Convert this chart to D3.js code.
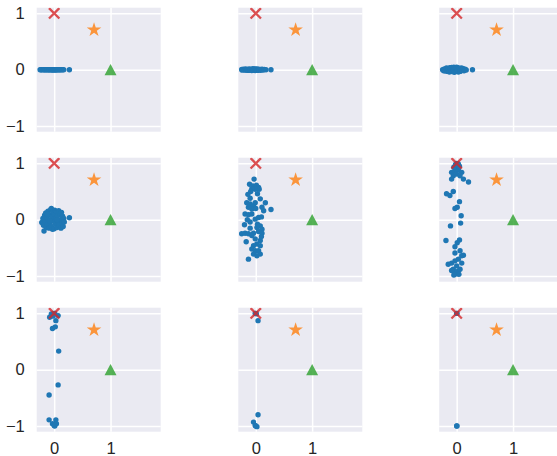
<!DOCTYPE html>
<html>
<head>
<meta charset="utf-8">
<script src="https://cdn.jsdelivr.net/npm/d3@7"></script>
<style>
  html, body { margin: 0; padding: 0; background: #ffffff; }
  svg { display: block; }
  .tick text { font-family: "Liberation Sans", Arial, sans-serif; font-size: 16.5px; fill: #262626; }
</style>
</head>
<body>
<svg id="chart" width="557" height="456"></svg>
<script>
// Reference states shown in every panel
const refUp = [0, 1];            // |1> direction, red cross
const refDiag = [0.7071, 0.7071]; // 45 degree state, orange star
const refRight = [1, 0];          // |0> direction, green triangle

const xTicks = [0, 1];
const yTicks = [-1, 0, 1];

// Sampled states at each stage, [x, y]
const stage1 = [[-0.25,0],[-0.23,0],[-0.22,0],[-0.19,0],[-0.18,0],[-0.16,0],[-0.15,0],[-0.13,0],[-0.12,0],[-0.1,0],[-0.09,0],[-0.08,0],[-0.06,0],[-0.05,0],[-0.04,0],[-0.03,0],[-0.02,0],[-0.01,0],[0,0],[0.01,0],[0.02,0],[0.03,0],[0.04,0],[0.05,0],[0.07,0],[0.08,0],[0.1,0],[0.11,0],[0.13,0],[0.15,0],[0.17,0],[0.27,0]];

const stage2 = [[-0.25,0.005],[-0.24,-0.008],[-0.22,0.01],[-0.2,-0.004],[-0.18,0.012],[-0.17,-0.01],[-0.15,0.006],[-0.13,-0.012],[-0.12,0.014],[-0.1,-0.006],[-0.09,0.01],[-0.07,-0.014],[-0.06,0.004],[-0.05,0.016],[-0.04,-0.01],[-0.02,0.012],[-0.01,-0.016],[0,0.008],[0.01,-0.004],[0.02,0.014],[0.03,-0.012],[0.05,0.01],[0.06,-0.008],[0.08,0.006],[0.09,-0.01],[0.11,0.008],[0.13,-0.004],[0.15,0.004],[0.18,0],[0.27,0]];

const stage3 = [[-0.25,0],[-0.23,-0.02],[-0.22,0.015],[-0.2,-0.025],[-0.18,0.03],[-0.16,-0.03],[-0.15,0.02],[-0.13,-0.04],[-0.12,0.035],[-0.1,-0.02],[-0.09,0.04],[-0.07,-0.035],[-0.06,0.01],[-0.05,0.045],[-0.04,-0.045],[-0.02,0.03],[-0.01,-0.03],[0,0.045],[0.01,-0.02],[0.02,0.035],[0.03,-0.04],[0.05,0.02],[0.06,-0.03],[0.08,0.03],[0.09,-0.015],[0.11,0.02],[0.13,-0.02],[0.15,0.01],[0.17,-0.005],[0.28,0]];

const stage4 = [[-0.22,-0.05],[-0.2,0.02],[-0.19,-0.1],[-0.17,0.08],[-0.16,-0.03],[-0.15,0.12],[-0.14,-0.14],[-0.13,0.04],[-0.12,-0.08],[-0.11,0.15],[-0.1,0],[-0.09,-0.15],[-0.08,0.09],[-0.07,-0.05],[-0.06,0.18],[-0.05,0.2],[-0.05,-0.12],[-0.04,0.05],[-0.03,-0.17],[-0.02,0.13],[-0.01,-0.02],[0,0.1],[0,-0.16],[0.01,0.17],[0.02,-0.07],[0.03,0.03],[0.04,0.14],[0.05,-0.14],[0.06,0.07],[0.07,-0.03],[0.08,0.16],[0.09,-0.1],[0.1,0.1],[0.11,0],[0.12,-0.15],[0.13,0.13],[0.14,-0.06],[0.15,0.06],[0.16,-0.12],[0.17,0.02],[0.18,-0.04],[0.27,0.035],[-0.18,-0.2],[-0.12,0.1],[0.05,0],[-0.08,-0.02]];

const stage5 = [[-0.03,0.72],[-0.11,0.63],[-0.05,0.6],[0.01,0.61],[0.05,0.57],[0.06,0.54],[-0.01,0.54],[-0.07,0.55],[0.03,0.46],[-0.1,0.38],[0.08,0.37],[-0.16,0.3],[-0.1,0.28],[-0.04,0.25],[-0.13,0.22],[-0.07,0.19],[-0.01,0.3],[0.17,0.3],[0.11,0.22],[0.27,0.18],[0.14,0.16],[-0.19,0.1],[-0.13,0.09],[-0.07,0.1],[0.05,0.04],[-0.01,0.01],[-0.2,-0.09],[-0.1,-0.04],[0.08,-0.11],[0.02,-0.14],[0.11,-0.17],[0.05,-0.21],[-0.04,-0.24],[0.11,-0.24],[-0.25,-0.25],[-0.19,-0.24],[-0.13,-0.25],[-0.07,-0.28],[-0.01,-0.34],[0.08,-0.37],[-0.17,-0.39],[0.02,-0.43],[0.08,-0.46],[-0.04,-0.46],[-0.07,-0.52],[-0.01,-0.55],[0.05,-0.55],[-0.04,-0.61],[0.08,-0.61],[0.02,-0.64],[-0.13,-0.7],[-0.14,0.45],[-0.09,0.5],[0,0.2],[-0.15,0],[0.1,-0.3],[-0.1,-0.15],[0.03,-0.08],[0.1,0.05]];

const stage6 = [[-0.09,0.84],[-0.03,0.87],[0.03,0.89],[0.09,0.84],[-0.06,0.78],[0,0.81],[0.06,0.78],[-0.09,0.72],[0.12,0.72],[0.21,0.67],[0,0.96],[-0.05,0.93],[0.05,0.95],[0,1],[-0.02,0.98],[0.03,0.99],[-0.18,0.46],[-0.12,0.43],[-0.06,0.5],[0.05,0.32],[0.01,0.22],[-0.03,0.2],[0.08,0.07],[-0.11,-0.11],[0.07,-0.06],[-0.19,-0.37],[0.05,-0.36],[0.01,-0.41],[-0.03,-0.48],[0.06,-0.55],[0.12,-0.63],[-0.03,-0.59],[0.09,-0.64],[0.03,-0.7],[-0.15,-0.79],[-0.09,-0.77],[-0.03,-0.73],[0.09,-0.77],[0,-0.82],[-0.06,-0.88],[0.03,-0.91],[-0.03,-0.93],[0,-0.96],[0.06,-0.88],[-0.09,-0.9],[-0.05,-0.98],[0.04,-0.97]];

const stage7 = [[-0.05,0.99],[0.01,1],[0,1],[0.07,0.96],[-0.08,0.93],[-0.02,0.95],[0.03,0.87],[-0.03,0.73],[0.02,0.76],[0.08,0.33],[0.07,-0.27],[-0.09,-0.45],[-0.09,-0.89],[0.03,-0.89],[-0.03,-0.96],[0.01,-1],[0.04,-0.96],[0,-0.99]];

const stage8 = [[0,1],[0.01,0.99],[-0.01,1],[0.04,0.87],[0.04,-0.8],[-0.04,-0.93],[-0.01,-0.99],[0.02,-1.01],[0,-1]];

const stage9 = [[0,1],[0.005,0.999],[0,-1],[0.005,-0.999]];

const stages = [stage1, stage2, stage3, stage4, stage5, stage6, stage7, stage8, stage9];

// Grid geometry
const colLeft = [36.7, 238.3, 439.2];
const rowTop = [7.7, 157.7, 307.7];
const pw = 124, ph = 124;

const x = d3.scaleLinear().domain([-0.31, 1.89]).range([0, pw]);
const y = d3.scaleLinear().domain([-1.1, 1.1]).range([ph, 0]);

const svg = d3.select("#chart");
svg.append("rect").attr("width", 557).attr("height", 456).attr("fill", "#ffffff");

stages.forEach((pts, i) => {
  const r = Math.floor(i / 3), c = i % 3;
  const g = svg.append("g").attr("transform", `translate(${colLeft[c]},${rowTop[r]})`);
  const clipId = "clip" + i;
  g.append("clipPath").attr("id", clipId)
    .append("rect").attr("width", pw).attr("height", ph);

  g.append("rect").attr("width", pw).attr("height", ph).attr("fill", "#eaeaf2");

  // white grid
  const gx = g.append("g").attr("transform", `translate(0,${ph})`)
    .call(d3.axisBottom(x).tickValues(xTicks).tickSize(-ph).tickFormat(""));
  const gy = g.append("g")
    .call(d3.axisLeft(y).tickValues(yTicks).tickSize(-pw).tickFormat(""));
  [gx, gy].forEach(a => {
    a.select(".domain").remove();
    a.selectAll(".tick line").attr("stroke", "#ffffff").attr("stroke-width", 1.5);
  });

  // tick labels
  if (c === 0) {
    const ly = g.append("g").call(d3.axisLeft(y).tickValues(yTicks).tickSize(0).tickPadding(12).tickFormat(d3.format("d")));
    ly.select(".domain").remove();
  }
  if (r === 2) {
    const lx = g.append("g").attr("transform", `translate(0,${ph})`)
      .call(d3.axisBottom(x).tickValues(xTicks).tickSize(0).tickPadding(11).tickFormat(d3.format("d")));
    lx.select(".domain").remove();
  }

  const plot = g.append("g").attr("clip-path", `url(#${clipId})`);

  plot.selectAll("circle.pt").data(pts).join("circle")
    .attr("class", "pt")
    .attr("cx", d => x(d[0])).attr("cy", d => y(d[1]))
    .attr("r", 2.7).attr("fill", "#1f77b4");

  // red cross
  const cx = x(refUp[0]), cy = y(refUp[1]), s = 5.2;
  plot.append("path")
    .attr("d", `M${cx - s},${cy - s}L${cx + s},${cy + s}M${cx - s},${cy + s}L${cx + s},${cy - s}`)
    .attr("stroke", "#d62728").attr("stroke-width", 2.3).attr("stroke-opacity", 0.8).attr("fill", "none");

  // orange star
  plot.append("path")
    .attr("transform", `translate(${x(refDiag[0])},${y(refDiag[1])})`)
    .attr("d", d3.symbol(d3.symbolStar, 66)())
    .attr("fill", "#ff7f0e").attr("fill-opacity", 0.8);

  // green triangle, centred on its bounding box
  const tx = x(refRight[0]), ty = y(refRight[1]), hw = 6, hh = 5.6;
  plot.append("path")
    .attr("d", `M${tx},${ty - hh}L${tx + hw},${ty + hh}L${tx - hw},${ty + hh}Z`)
    .attr("fill", "#2ca02c").attr("fill-opacity", 0.8);
});
</script>
</body>
</html>
